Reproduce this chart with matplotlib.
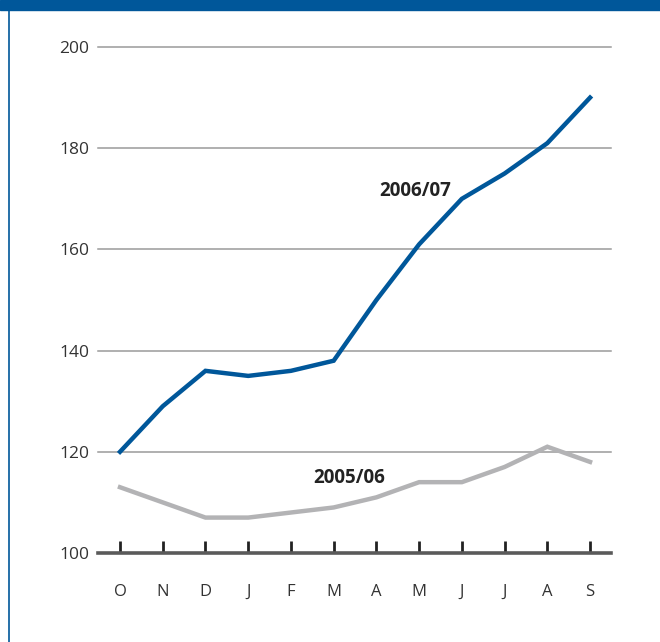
import matplotlib
matplotlib.use("Agg")
import matplotlib.pyplot as plt
from matplotlib.patches import Rectangle
from matplotlib.lines import Line2D

months = ["O", "N", "D", "J", "F", "M", "A", "M", "J", "J", "A", "S"]
series_2006_07 = [120, 129, 136, 135, 136, 138, 150, 161, 170, 175, 181, 190]
series_2005_06 = [113, 110, 107, 107, 108, 109, 111, 114, 114, 117, 121, 118]
y_ticks = [100, 120, 140, 160, 180, 200]

blue = "#00579a"
grey = "#b3b3b5"
plt.rcParams["font.family"] = ["Open Sans", "DejaVu Sans"]

fig = plt.figure(figsize=(6.6, 6.42), dpi=100)
fig.patches.append(Rectangle((0, 1 - 10 / 642), 1, 10 / 642, transform=fig.transFigure,
                             color=blue, zorder=0))
fig.lines.append(Line2D([9 / 660, 9 / 660], [0, 1 - 10 / 642], transform=fig.transFigure,
                        color=blue, lw=1.2))

# axes spans the gridlines: x 98..611 px, y 47..553 px
ax = fig.add_axes([98 / 660, 89 / 642, (611 - 98) / 660, (553 - 47) / 642])
x = range(len(months))
ax.set_xlim(-0.515, 11.49)
ax.set_ylim(100, 200)

for v in y_ticks[1:]:
    ax.axhline(v, color="#9a9a9a", lw=1.1, zorder=1, clip_on=False)
ax.axhline(100, color="#5a5a5a", lw=2.6, zorder=3, clip_on=False)

ax.plot(x, series_2005_06, color=grey, lw=3.2, solid_joinstyle="miter", zorder=4)
ax.plot(x, series_2006_07, color=blue, lw=3.2, solid_joinstyle="miter", zorder=5)

ax.text(6.91, 171.6, "2006/07", fontsize=13.5, fontweight="bold", color="#222222",
        ha="center", va="center")
ax.text(5.37, 114.8, "2005/06", fontsize=13.5, fontweight="bold", color="#222222",
        ha="center", va="center")

for s in ax.spines.values():
    s.set_visible(False)
ax.set_yticks(y_ticks)
ax.set_yticklabels([str(v) for v in y_ticks], fontsize=12.5, color="#333333")
ax.tick_params(axis="y", length=0, pad=6.5)
ax.set_xticks(list(x))
ax.set_xticklabels(months, fontsize=12, color="#333333")
ax.tick_params(axis="x", direction="in", length=9, width=2, color="#222222", pad=22)

fig.savefig("out.png", dpi=100)
